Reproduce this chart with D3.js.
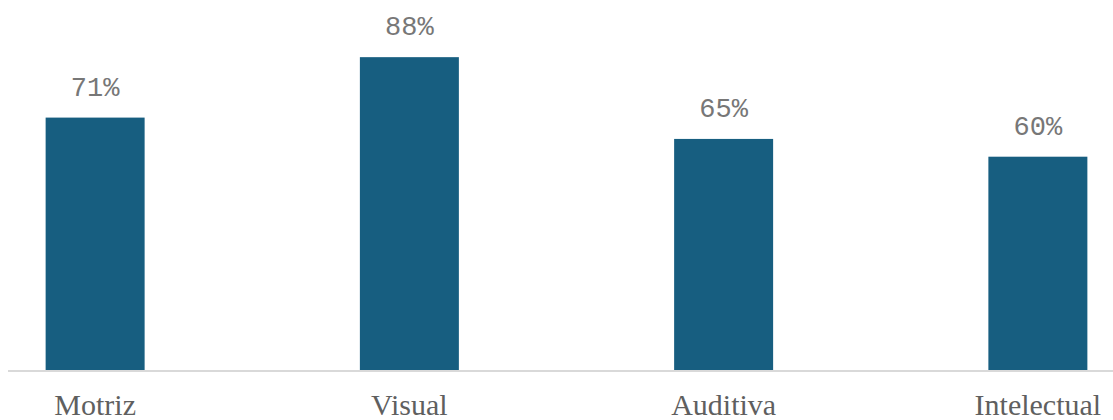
<!DOCTYPE html>
<html>
<head>
<meta charset="utf-8">
<script src="https://cdn.jsdelivr.net/npm/d3@7"></script>
<style>
  body { margin: 0; background: #fff; }
  svg { display: block; }
</style>
</head>
<body>
<div id="chart"></div>
<script>
// data
var categories = ["Motriz", "Visual", "Auditiva", "Intelectual"];
var values = [71, 88, 65, 60];
var valueLabels = ["71%", "88%", "65%", "60%"];

var width = 1113, height = 420;
var baseY = 370;

var svg = d3.select("#chart").append("svg")
    .attr("width", width)
    .attr("height", height);

// plot area is cut off on the left/right in the original, so the band range runs past the edges
var x = d3.scaleBand()
    .domain(categories)
    .range([-62, 1195])
    .paddingInner(0.685)
    .paddingOuter(0.3425);

var y = d3.scaleLinear()
    .domain([0, 100])
    .range([baseY, baseY - 355.5]);

var barColor = "#175e80";

svg.selectAll("rect.bar")
    .data(values)
    .enter().append("rect")
    .attr("class", "bar")
    .attr("x", function(d, i) { return x(categories[i]); })
    .attr("y", function(d) { return y(d); })
    .attr("width", x.bandwidth())
    .attr("height", function(d) { return y(0) - y(d); })
    .style("fill", barColor);

// value labels
svg.selectAll("text.val")
    .data(values)
    .enter().append("text")
    .attr("class", "val")
    .attr("x", function(d, i) { return x(categories[i]) + x.bandwidth() / 2; })
    .attr("y", function(d) { return y(d) - 22; })
    .attr("text-anchor", "middle")
    .style("font-family", "'Liberation Mono', 'DejaVu Sans Mono', monospace")
    .style("font-size", "27px")
    .style("fill", "#777")
    .text(function(d, i) { return valueLabels[i]; });

// baseline
svg.append("line")
    .attr("x1", 8)
    .attr("x2", width)
    .attr("y1", baseY + 1)
    .attr("y2", baseY + 1)
    .style("stroke", "#d9d9d9")
    .style("stroke-width", 2);

// category axis
var xAxis = d3.axisBottom(x).tickSize(0).tickPadding(0);
var gx = svg.append("g")
    .attr("transform", "translate(0," + baseY + ")")
    .call(xAxis);
gx.select(".domain").remove();
gx.selectAll("text")
    .attr("dy", null)
    .attr("y", 45)
    .style("font-family", "'Liberation Serif', 'Times New Roman', serif")
    .style("font-size", "30px")
    .style("fill", "#5f5f5f");
</script>
</body>
</html>
